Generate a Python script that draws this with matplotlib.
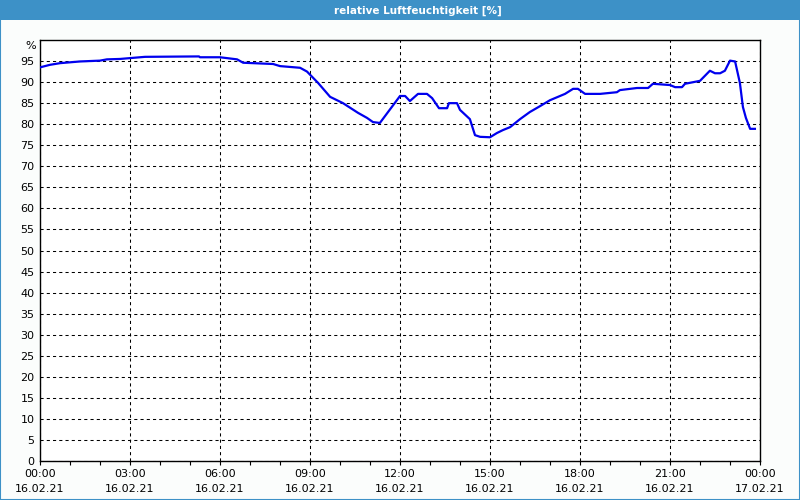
import matplotlib
matplotlib.use('Agg')
import matplotlib.pyplot as plt
from matplotlib.patches import Rectangle

# hours since 16.02.21 00:00 and relative humidity [%]
hours = [0.0, 0.33, 0.67, 1.0, 1.33, 2.0, 2.23, 2.67, 3.0, 3.5, 5.3, 5.33, 6.0, 6.57, 6.77,
         7.77, 8.0, 8.67, 8.9, 9.27, 9.67, 10.1, 10.6, 10.9, 11.1, 11.33, 12.0, 12.17, 12.33,
         12.6, 12.9, 13.07, 13.3, 13.57, 13.63, 13.9, 14.0, 14.33, 14.5, 14.67, 15.0, 15.23,
         15.43, 15.67, 16.0, 16.33, 16.67, 17.0, 17.5, 17.77, 17.93, 18.17, 18.67, 19.23,
         19.33, 19.9, 20.27, 20.43, 21.0, 21.17, 21.4, 21.5, 22.0, 22.33, 22.5, 22.67, 22.83,
         23.0, 23.17, 23.33, 23.43, 23.53, 23.67, 23.83]
humidity = [93.5, 94.1, 94.5, 94.7, 94.9, 95.1, 95.4, 95.5, 95.7, 96.0, 96.1, 95.9, 95.9, 95.4, 94.6,
            94.3, 93.8, 93.4, 92.5, 89.8, 86.5, 85.0, 82.7, 81.5, 80.5, 80.3, 86.7, 86.7, 85.5,
            87.2, 87.2, 86.2, 83.8, 83.8, 85.0, 85.0, 83.4, 81.2, 77.4, 77.0, 76.9, 77.9,
            78.6, 79.3, 81.2, 82.9, 84.3, 85.7, 87.2, 88.4, 88.4, 87.2, 87.2, 87.6,
            88.1, 88.6, 88.6, 89.6, 89.3, 88.8, 88.8, 89.6, 90.3, 92.7, 92.1, 92.1, 92.7,
            95.1, 94.9, 89.8, 84.1, 81.5, 78.9, 78.9]

tick_hours = [0, 3, 6, 9, 12, 15, 18, 21, 24]
tick_labels = ['00:00\n16.02.21', '03:00\n16.02.21', '06:00\n16.02.21', '09:00\n16.02.21',
               '12:00\n16.02.21', '15:00\n16.02.21', '18:00\n16.02.21', '21:00\n16.02.21',
               '00:00\n17.02.21']
title = 'relative Luftfeuchtigkeit [%]'

fig = plt.figure(figsize=(8, 5), dpi=100, facecolor='#fbfdfc')
ax = fig.add_axes([0.05, 0.078, 0.90, 0.842])
ax.set_facecolor('white')

# title bar + frame
fig.patches.append(Rectangle((0, 0.96), 1, 0.04, transform=fig.transFigure,
                             facecolor='#3d91c7', edgecolor='none', zorder=0))
fig.patches.append(Rectangle((0.0006, 0.001), 0.9988, 0.998, transform=fig.transFigure,
                             facecolor='none', edgecolor='#3d91c7', lw=1.5, zorder=5))
fig.text(0.522, 0.979, title, color='white', fontsize=7.5, fontweight='bold',
         ha='center', va='center')

ax.plot(hours, humidity, color='#0000ee', lw=1.6, zorder=3)

ax.set_xlim(0, 24)
ax.set_ylim(0, 100)
ax.set_xticks(tick_hours)
ax.set_xticklabels(tick_labels, fontsize=8, linespacing=1.6)
ax.set_xticks(range(25), minor=True)
ax.set_yticks(range(0, 100, 5))
ax.set_yticklabels([str(v) for v in range(0, 100, 5)], fontsize=8)
ax.tick_params(axis='x', which='both', length=3, width=0.8, pad=3, direction='out')
ax.tick_params(axis='y', length=0, pad=4)
ax.text(-0.006, 0.997, '%', transform=ax.transAxes, ha='right', va='top', fontsize=8)

ax.grid(True, which='major', color='black', lw=0.75, linestyle=(0, (3, 3)))
for s in ax.spines.values():
    s.set_linewidth(1)
    s.set_color('black')

fig.savefig('out.png', dpi=100, facecolor=fig.get_facecolor())
